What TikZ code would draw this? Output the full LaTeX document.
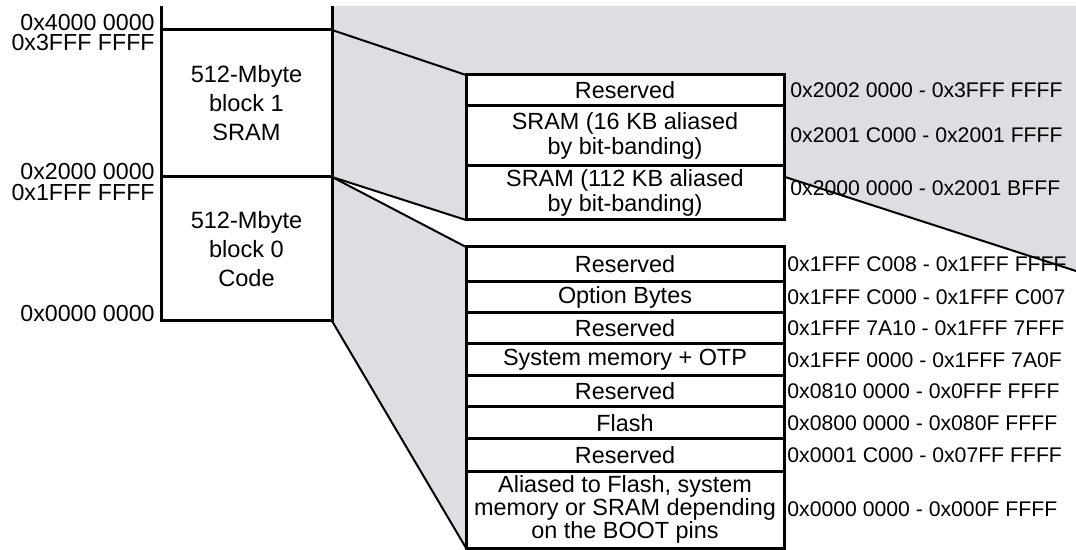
\documentclass[tikz,border=0pt]{standalone}
\usepackage{fontspec}
\setmainfont{Liberation Sans}
\definecolor{mapgray}{RGB}{221, 222, 225}
\usetikzlibrary{positioning, calc}

\tikzset{
  region/.style={draw, line width=1.5pt, fill=white, inner sep=0pt, outer sep=0pt, align=center, anchor=north west, minimum width=85.5pt, font=\fontsize{11.8}{14.5}\selectfont},
  memrow/.style={draw, line width=1.5pt, fill=white, inner sep=0pt, outer sep=0pt, align=center, anchor=north west, minimum width=159pt, font=\fontsize{11.7}{12.5}\selectfont},
  addr/.style={anchor=west, inner sep=0pt, font=\fontsize{10.6}{12}\selectfont},
  bound/.style={anchor=base east, inner sep=0pt, text height=8pt, text depth=0pt, font=\fontsize{11.6}{12}\selectfont},
  zoomline/.style={line width=1pt},
}

\begin{document}
\begin{tikzpicture}[x=0.5pt, y=-0.5pt]
  \useasboundingbox (0, 0) rectangle (1076, 550);

  % Shaded zoom regions
  \fill[mapgray] (332, 6) -- (1076, 6) -- (1076, 271) -- (785, 177) -- (785, 220) -- (466, 220) -- (332, 177) -- cycle;
  \fill[mapgray] (332, 177) -- (466, 247) -- (466, 548) -- (332, 322) -- cycle;

  % 512-Mbyte blocks
  \node[region, minimum height=73.5pt] (blk1) at (161, 30) {512-Mbyte\\block 1\\SRAM};
  \node[region, minimum height=72pt] (blk0) at (161, 177) {512-Mbyte\\block 0\\Code};
  \draw[line width=1.5pt] (blk1.north west) -- ++(0, -24);
  \draw[line width=1.5pt] (blk1.north east) -- ++(0, -24);

  \node[bound] (b40) at (155, 30.5) {0x4000 0000};
  \node[bound] (b3f) at (155, 51) {0x3FFF FFFF};
  \node[bound] (b20) at (155, 179.5) {0x2000 0000};
  \node[bound] (b1f) at (155, 201) {0x1FFF FFFF};
  \node[bound] (b00) at (155, 322) {0x0000 0000};

  % SRAM detail
  \node[memrow, minimum height=15.5pt] (resA) at (466, 75) {Reserved};
  \node[memrow, minimum height=30pt] (sramA) at (466, 106) {SRAM (16 KB aliased\\by bit-banding)};
  \node[memrow, minimum height=27pt] (sramB) at (466, 166) {SRAM (112 KB aliased\\by bit-banding)};

  \node[addr] (aResA) at (790, 90) {0x2002 0000 - 0x3FFF FFFF};
  \node[addr] (aSramA) at (790, 135) {0x2001 C000 - 0x2001 FFFF};
  \node[addr] (aSramB) at (790, 188) {0x2000 0000 - 0x2001 BFFF};

  % Code detail
  \node[memrow, minimum height=17.5pt] (resB) at (466, 247) {Reserved};
  \node[memrow, minimum height=15.5pt] (optb) at (466, 282) {Option Bytes};
  \node[memrow, minimum height=15.5pt] (resC) at (466, 313) {Reserved};
  \node[memrow, minimum height=16pt] (sysm) at (466, 344) {System memory + OTP};
  \node[memrow, minimum height=15.5pt] (resD) at (466, 376) {Reserved};
  \node[memrow, minimum height=16pt] (flash) at (466, 407) {Flash};
  \node[memrow, minimum height=16pt] (resE) at (466, 439) {Reserved};
  \node[memrow, minimum height=38.5pt, font=\fontsize{11.7}{11.5}\selectfont] (alias) at (466, 471) {Aliased to Flash, system\\memory or SRAM depending\\on the BOOT pins};

  \node[addr] (aResB) at (787, 264.5) {0x1FFF C008 - 0x1FFF FFFF};
  \node[addr] (aOptb) at (787, 297.5) {0x1FFF C000 - 0x1FFF C007};
  \node[addr] (aResC) at (787, 328.5) {0x1FFF 7A10 - 0x1FFF 7FFF};
  \node[addr] (aSysm) at (787, 360) {0x1FFF 0000 - 0x1FFF 7A0F};
  \node[addr] (aResD) at (787, 391.5) {0x0810 0000 - 0x0FFF FFFF};
  \node[addr] (aFlash) at (787, 423) {0x0800 0000 - 0x080F FFFF};
  \node[addr] (aResE) at (787, 455) {0x0001 C000 - 0x07FF FFFF};
  \node[addr] (aAlias) at (787, 509.5) {0x0000 0000 - 0x000F FFFF};

  % Zoom lines
  \coordinate (edgeA) at (785, 177);
  \coordinate (edgeB) at (1076, 271);
  \draw[zoomline] (blk1.north east) -- (resA.north west);
  \draw[zoomline] (blk1.south east) -- (sramB.south west);
  \draw[zoomline] (blk0.north east) -- (resB.north west);
  \draw[zoomline] (blk0.south east) -- (alias.south west);
  \draw[zoomline] (edgeA) -- (edgeB);
\end{tikzpicture}
\end{document}
